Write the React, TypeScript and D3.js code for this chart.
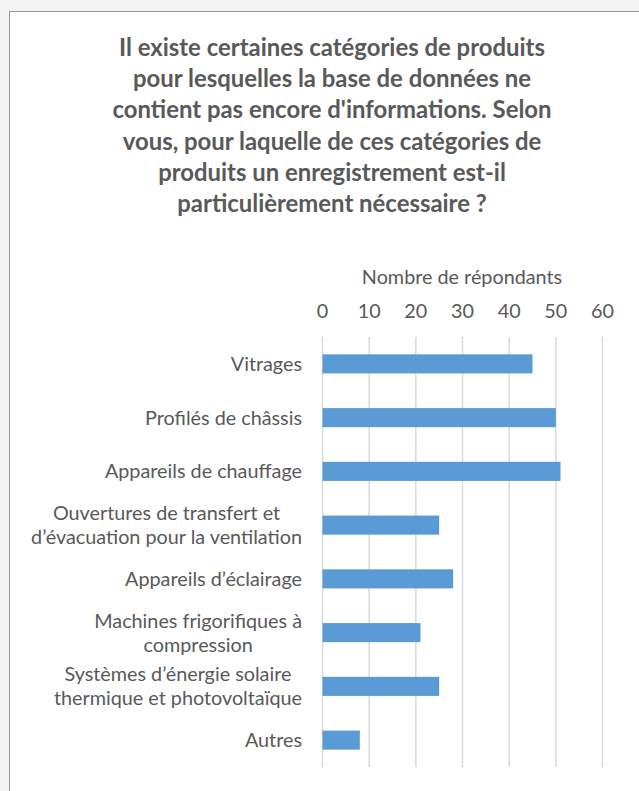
import React, { useEffect, useRef } from "react";
import * as d3 from "d3";

const categories: string[][] = [
  ["Vitrages"],
  ["Profilés de châssis"],
  ["Appareils de chauffage"],
  ["Ouvertures de transfert et", "d’évacuation pour la ventilation"],
  ["Appareils d’éclairage"],
  ["Machines frigorifiques à", "compression"],
  ["Systèmes d’énergie solaire", "thermique et photovoltaïque"],
  ["Autres"],
];
const values: number[] = [45, 50, 51, 25, 28, 21, 25, 8];
const ticks: number[] = [0, 10, 20, 30, 40, 50, 60];
const titleLines: string[] = [
  "Il existe certaines catégories de produits",
  "pour lesquelles la base de données ne",
  "contient pas encore d'informations. Selon",
  "vous, pour laquelle de ces catégories de",
  "produits un enregistrement est-il",
  "particulièrement nécessaire ?",
];
const axisTitle = "Nombre de répondants";

const W = 639;
const H = 791;
const FONT = "Lato, 'Open Sans', sans-serif";
const TEXT = "#595959";
const LABEL_SIZE = 19.8;

export default function App() {
  const ref = useRef<SVGSVGElement>(null);
  useEffect(() => {
    const svg = d3.select(ref.current);
    svg.selectAll("*").remove();

    svg.append("rect").attr("x", 0).attr("y", 0).attr("width", W).attr("height", H).attr("fill", "#f3f3f3");
    svg.append("rect").attr("x", 9.5).attr("y", 11.5).attr("width", W + 20).attr("height", H + 20)
      .attr("fill", "#ffffff").attr("stroke", "#9a9a9a").attr("stroke-width", 1);

    const title = svg.append("text").attr("font-family", FONT).attr("font-weight", "bold")
      .attr("font-size", 23.9).attr("fill", TEXT).attr("text-anchor", "middle");
    titleLines.forEach((l, i) => {
      title.append("tspan").attr("x", 332).attr("y", 56 + i * 31.2).text(l);
    });

    const x = d3.scaleLinear().domain([0, 60]).range([322.5, 602.5]);
    const y = d3.scaleBand<number>().domain(d3.range(categories.length)).range([337, 767]).paddingInner(0.645).paddingOuter(0.3225);

    const g = svg.append("g");
    g.selectAll("line.grid").data(ticks).enter().append("line")
      .attr("x1", (d) => x(d)).attr("x2", (d) => x(d)).attr("y1", 337).attr("y2", 767)
      .attr("stroke", "#d9d9d9").attr("stroke-width", 1.5);

    g.selectAll("text.tick").data(ticks).enter().append("text")
      .attr("x", (d) => x(d)).attr("y", 318).attr("text-anchor", "middle")
      .attr("font-family", FONT).attr("font-size", LABEL_SIZE).attr("fill", TEXT).text((d) => String(d));

    svg.append("text").attr("x", 462).attr("y", 284).attr("text-anchor", "middle")
      .attr("font-family", FONT).attr("font-size", LABEL_SIZE).attr("fill", TEXT).text(axisTitle);

    g.selectAll("rect.bar").data(values).enter().append("rect")
      .attr("x", x(0)).attr("y", (_, i) => y(i)!).attr("width", (d) => x(d) - x(0)).attr("height", y.bandwidth())
      .attr("fill", "#5b9bd5");

    categories.forEach((lines, i) => {
      const cy = y(i)! + y.bandwidth() / 2;
      const t = svg.append("text").attr("font-family", FONT).attr("font-size", LABEL_SIZE).attr("fill", TEXT)
        .attr("text-anchor", "middle");
      const spans = lines.map((l, j) =>
        t.append("tspan").attr("y", cy + 7 + (j - (lines.length - 1) / 2) * 24).text(l)
      );
      const widths = spans.map((s) => (s.node() as SVGTSpanElement).getComputedTextLength());
      const maxW = Math.max(...widths);
      const cx = 302 - maxW / 2;
      spans.forEach((s) => s.attr("x", cx));
    });
  }, []);
  return <svg ref={ref} width={W} height={H} style={{ position: "absolute", left: 0, top: 0 }} />;
}
